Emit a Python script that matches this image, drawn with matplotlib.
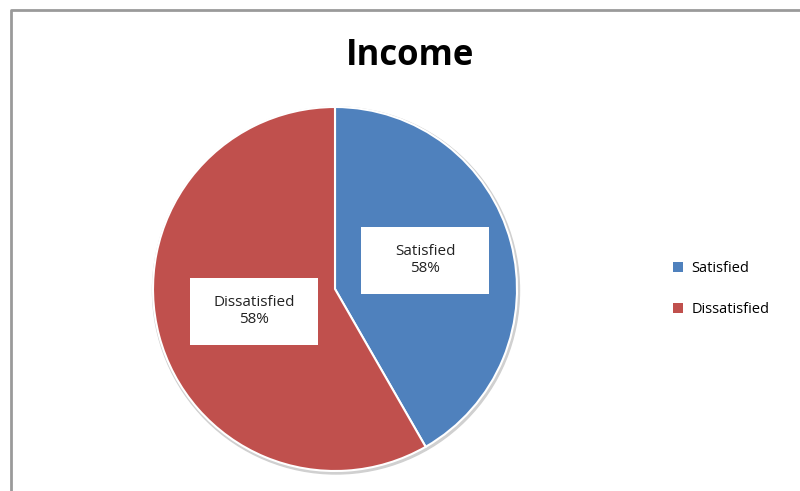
import matplotlib.pyplot as plt
from matplotlib.patches import Rectangle

# Data
categories = ['Satisfied', 'Dissatisfied']
values = [41.7, 58.3]
pct_labels = ['58%', '58%']
colors = ['#4F81BD', '#C0504D']

W, H = 800, 491
fig = plt.figure(figsize=(W / 100, H / 100), dpi=100)
ax = fig.add_axes([0, 0, 1, 1])
ax.set_xlim(0, W)
ax.set_ylim(0, H)
ax.set_aspect('equal')
ax.axis('off')

# outer frame (only left/top visible in the crop)
ax.plot([11, 11, W + 5], [-5, H - 10, H - 10], color='#9a9a9a', lw=2, solid_capstyle='butt')

# pie
cx, cy, r = 335, H - 289, 182
ax.add_patch(plt.Circle((cx + 1, cy - 1.5), r + 1.5, color='#d0d0d0', zorder=1))
wedges, _ = ax.pie(values, colors=colors, startangle=90, counterclock=False,
                   center=(cx, cy), radius=r, frame=True,
                   wedgeprops=dict(edgecolor='white', linewidth=1.5, zorder=2))
ax.set_xlim(0, W)
ax.set_ylim(0, H)
ax.axis('off')

# data label boxes
boxes = [(361, 227), (190, 278)]
for (bx, by), cat, pct in zip(boxes, categories, pct_labels):
    ax.add_patch(Rectangle((bx, H - by - 67), 128, 67, facecolor='white',
                           edgecolor='none', zorder=3))
    ax.text(bx + 64, H - by - 33, f'{cat}\n{pct}', ha='center', va='center',
            fontsize=11, family='Open Sans', color='#222222', zorder=4,
            linespacing=1.2)

# title
fig.text(410 / W, 1 - 56 / H, 'Income', ha='center', va='center',
         fontsize=25, fontweight='bold', family='Open Sans')

# legend
leg = ax.legend(wedges, categories, loc='center left',
                bbox_to_anchor=(660 / W, 1 - 289 / H), frameon=False,
                handlelength=0.7, handleheight=0.7, handletextpad=0.55,
                labelspacing=1.8, prop={'family': 'Open Sans', 'size': 10.5})
for h in leg.legend_handles:
    h.set_edgecolor('none')

fig.savefig('out.png', dpi=100)
